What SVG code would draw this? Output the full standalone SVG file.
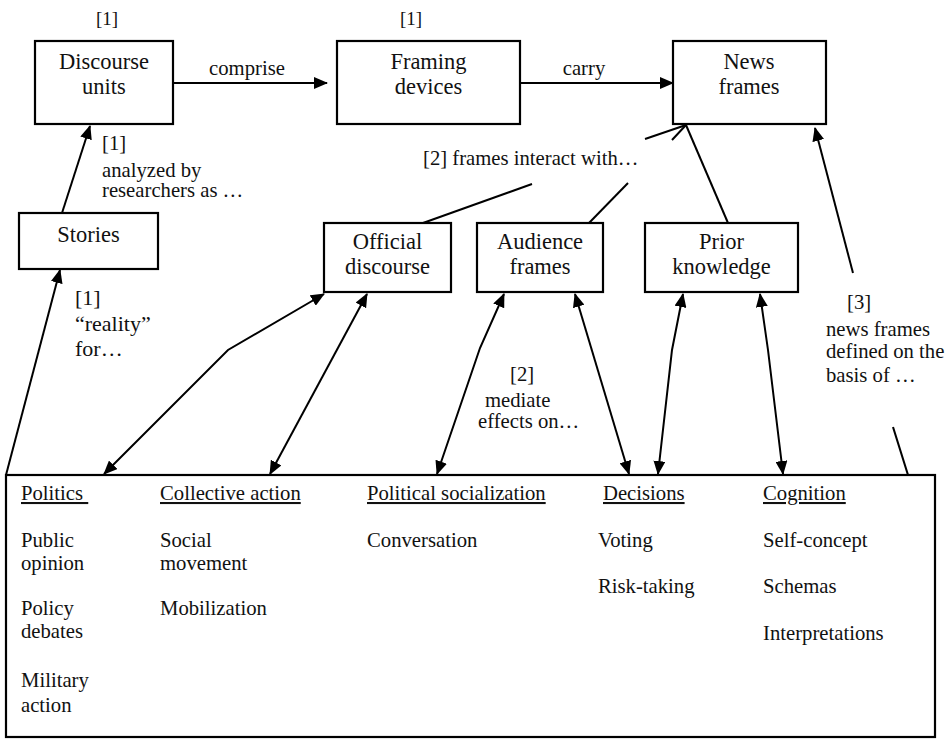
<svg xmlns="http://www.w3.org/2000/svg" width="950" height="740" viewBox="0 0 950 740">
<style>
text{font-family:'Liberation Serif','DejaVu Serif',serif;fill:#111}
.box{fill:#fff;stroke:#000;stroke-width:2.2}
.bl{font-size:22.5px;text-anchor:middle}
.lb{font-size:20.7px}
.it{font-size:20.7px}
.u{text-decoration:underline}
.ln{fill:none;stroke:#000;stroke-width:2}
.ar{marker-end:url(#ah)}
.bi{marker-start:url(#ah);marker-end:url(#ah)}
</style>
<defs>
<marker id="ah" viewBox="0 0 14 12" refX="13" refY="6" markerWidth="14" markerHeight="12" markerUnits="userSpaceOnUse" orient="auto-start-reverse">
<path d="M0,0 L14,6 L0,12 z" fill="#000"/>
</marker>
</defs>
<rect width="950" height="740" fill="#fff"/>

<g id="connectors">
<path class="ln ar" d="M173,83 L327,83"/>
<path class="ln ar" d="M520,83 L673,83"/>
<path class="ln ar" d="M62,213 L90,126"/>
<path class="ln ar" d="M6,475 L60,270"/>
<path class="ln" d="M423,223 L532,184"/>
<path class="ln" d="M645,139 L686,125"/>
<path class="ln" d="M589,223 L628,183"/>
<path class="ln" d="M672,140 L686,125"/>
<path class="ln" d="M728,223 L686,125"/>
<path class="ln ar" d="M853,273 L815,128"/>
<path class="ln" d="M893,427 L908,475"/>
<path class="ln bi" d="M104,474 L228,350 L324,294"/>
<path class="ln bi" d="M270,474 L367,294"/>
<path class="ln bi" d="M437,474 L480,348 L504,294"/>
<path class="ln bi" d="M629,474 L575,294"/>
<path class="ln bi" d="M658,474 L672,350 L683,294"/>
<path class="ln bi" d="M783,474 L768,350 L760,294"/>
</g>

<g id="discourse-units">
<rect class="box" x="35" y="41" width="138" height="83"/>
<text class="bl" x="104" y="69" font-family="Liberation Serif, serif">Discourse</text>
<text class="bl" x="104" y="94">units</text>
<text class="lb" x="107" y="25" text-anchor="middle" style="font-size:19px">[1]</text>
</g>

<g id="framing-devices">
<rect class="box" x="337" y="41" width="183" height="83"/>
<text class="bl" x="428.5" y="69">Framing</text>
<text class="bl" x="428.5" y="94">devices</text>
<text class="lb" x="411" y="25" text-anchor="middle" style="font-size:19px">[1]</text>
</g>

<g id="news-frames">
<rect class="box" x="673" y="41" width="153" height="83"/>
<text class="bl" x="749" y="69">News</text>
<text class="bl" x="749" y="94">frames</text>
</g>

<g id="stories">
<rect class="box" x="19" y="213" width="139" height="56"/>
<text class="bl" x="88.5" y="242">Stories</text>
</g>

<g id="official-discourse">
<rect class="box" x="324" y="223" width="127" height="69"/>
<text class="bl" x="387.5" y="249">Official</text>
<text class="bl" x="387.5" y="274">discourse</text>
</g>

<g id="audience-frames">
<rect class="box" x="477" y="223" width="126" height="69"/>
<text class="bl" x="540" y="249">Audience</text>
<text class="bl" x="540" y="274">frames</text>
</g>

<g id="prior-knowledge">
<rect class="box" x="645" y="223" width="153" height="69"/>
<text class="bl" x="721.5" y="249">Prior</text>
<text class="bl" x="721.5" y="274">knowledge</text>
</g>

<g id="labels">
<text class="lb" x="247" y="75" text-anchor="middle">comprise</text>
<text class="lb" x="584" y="75" text-anchor="middle">carry</text>
<text class="lb" x="102" y="150">[1]</text>
<text class="lb" x="102" y="177">analyzed by</text>
<text class="lb" x="102" y="197">researchers as …</text>
<text class="lb" x="75" y="305" style="font-size:22px">[1]</text>
<text class="lb" x="75" y="331" style="font-size:22px">“reality”</text>
<text class="lb" x="75" y="356" style="font-size:22px">for…</text>
<text class="lb" x="423" y="165">[2] frames interact with…</text>
<text class="lb" x="510" y="381">[2]</text>
<text class="lb" x="485" y="407">mediate</text>
<text class="lb" x="478" y="428">effects on…</text>
<text class="lb" x="847" y="309">[3]</text>
<text class="lb" x="826" y="336">news frames</text>
<text class="lb" x="826" y="358">defined on the</text>
<text class="lb" x="826" y="382">basis of …</text>
</g>

<g id="outcomes">
<rect class="box" x="6" y="475" width="929" height="262"/>
<text class="it u" x="21" y="500" xml:space="preserve">Politics </text>
<text class="it" x="21" y="547">Public</text>
<text class="it" x="21" y="570">opinion</text>
<text class="it" x="21" y="615">Policy</text>
<text class="it" x="21" y="638">debates</text>
<text class="it" x="21" y="687">Military</text>
<text class="it" x="21" y="712">action</text>
<text class="it u" x="160" y="500">Collective action</text>
<text class="it" x="160" y="547">Social</text>
<text class="it" x="160" y="570">movement</text>
<text class="it" x="160" y="615">Mobilization</text>
<text class="it u" x="367" y="500">Political socialization</text>
<text class="it" x="367" y="547">Conversation</text>
<text class="it u" x="603" y="500">Decisions</text>
<text class="it" x="598" y="547">Voting</text>
<text class="it" x="598" y="593">Risk-taking</text>
<text class="it u" x="763" y="500">Cognition</text>
<text class="it" x="763" y="547">Self-concept</text>
<text class="it" x="763" y="593">Schemas</text>
<text class="it" x="763" y="640">Interpretations</text>
</g>
</svg>
